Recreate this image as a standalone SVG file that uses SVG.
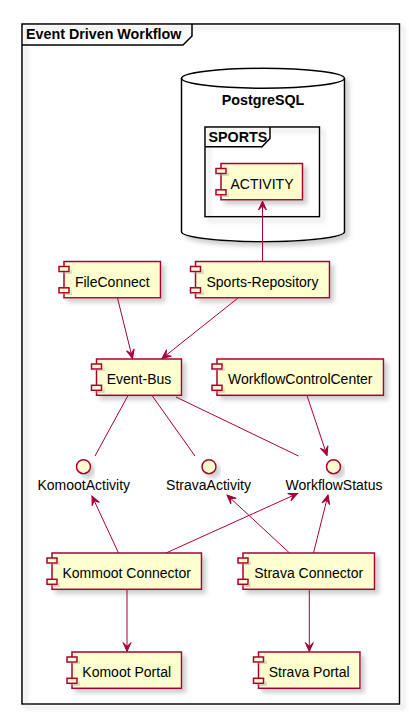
<svg xmlns="http://www.w3.org/2000/svg" width="409" height="715" viewBox="0 0 409 715">
<style>
.comp{fill:#FEFECE;stroke:#A80036;stroke-width:1.5;filter:url(#sh)}
.frame{fill:none;stroke:#000;stroke-width:1.5}
.lbl{font-family:"Liberation Sans",Arial,sans-serif;font-size:14px;fill:#000;text-anchor:middle}
.ilbl{font-family:"Liberation Sans",Arial,sans-serif;font-size:14px;fill:#000;text-anchor:middle}
.title{font-family:"Liberation Sans",Arial,sans-serif;font-size:14.3px;font-weight:bold;fill:#000}
.edge{fill:none;stroke:#A80036;stroke-width:1}
.arr{marker-end:url(#ah)}
</style>
<defs>
<filter id="sh" x="-20%" y="-20%" width="150%" height="160%">
<feGaussianBlur in="SourceAlpha" stdDeviation="2" result="b"/>
<feOffset in="b" dx="4" dy="4" result="o"/>
<feColorMatrix in="o" type="matrix" values="0 0 0 0 0.4  0 0 0 0 0.4  0 0 0 0 0.4  0 0 0 0.55 0" result="c"/>
<feMerge><feMergeNode in="c"/><feMergeNode in="SourceGraphic"/></feMerge>
</filter>
<marker id="ah" viewBox="-10 -5 11 10" refX="0" refY="0" markerWidth="11" markerHeight="10" orient="auto" markerUnits="userSpaceOnUse">
<path d="M0,0 L-9,-4 L-5,0 L-9,4 Z" fill="#A80036" stroke="#A80036" stroke-width="1"/>
</marker>
</defs>

<g id="frame-workflow">
<rect class="frame" x="22" y="24" width="377.5" height="680" filter="url(#sh)"/>
<path class="frame" d="M22,45 L183,45 L192,36 L192,24"/>
<text class="title" x="26" y="38.5">Event Driven Workflow</text>
</g>

<g id="db-postgresql">
<path d="M181.5,78.3 A81.5,10 0 0 1 344.5,78.3 L344.5,231.7 A81.5,10 0 0 1 181.5,231.7 Z" fill="#FFFFFF" stroke="#000" stroke-width="1.5" filter="url(#sh)"/>
<path d="M181.5,78.3 A81.5,10 0 0 0 344.5,78.3" fill="none" stroke="#000" stroke-width="1.5"/>
<text class="title" x="263" y="105" text-anchor="middle">PostgreSQL</text>
</g>

<g id="frame-sports">
<rect class="frame" x="205" y="127" width="114.5" height="89.7" filter="url(#sh)"/>
<path class="frame" d="M205,146.7 L262,146.7 L270,138.5 L270,127"/>
<text class="title" x="208.5" y="141.7">SPORTS</text>
</g>

<g id="activity">
<rect class="comp" x="221" y="163.5" width="81.5" height="36.3"/>
<rect class="comp" x="216" y="168.5" width="10" height="5"/>
<rect class="comp" x="216" y="189.8" width="10" height="5"/>
<text class="lbl" x="262" y="188.5">ACTIVITY</text>
</g>

<g id="fileconnect">
<rect class="comp" x="64" y="261.5" width="96.5" height="36.3"/>
<rect class="comp" x="59" y="266.5" width="10" height="5"/>
<rect class="comp" x="59" y="287.8" width="10" height="5"/>
<text class="lbl" x="112.3" y="286.5">FileConnect</text>
</g>

<g id="sports-repository">
<rect class="comp" x="195.5" y="261.5" width="134" height="36.3"/>
<rect class="comp" x="190.5" y="266.5" width="10" height="5"/>
<rect class="comp" x="190.5" y="287.8" width="10" height="5"/>
<text class="lbl" x="262.5" y="286.5">Sports-Repository</text>
</g>

<g id="event-bus">
<rect class="comp" x="96.5" y="359" width="85" height="36.3"/>
<rect class="comp" x="91.5" y="364" width="10" height="5"/>
<rect class="comp" x="91.5" y="385.3" width="10" height="5"/>
<text class="lbl" x="139" y="384">Event-Bus</text>
</g>

<g id="workflowcontrolcenter">
<rect class="comp" x="217" y="359" width="166.5" height="36.3"/>
<rect class="comp" x="212" y="364" width="10" height="5"/>
<rect class="comp" x="212" y="385.3" width="10" height="5"/>
<text class="lbl" x="300.3" y="384">WorkflowControlCenter</text>
</g>

<g id="komootactivity">
<circle class="comp" cx="83.5" cy="466.7" r="7"/>
<text class="ilbl" x="83.8" y="490">KomootActivity</text>
</g>

<g id="stravaactivity">
<circle class="comp" cx="209" cy="466.7" r="7"/>
<text class="ilbl" x="208.5" y="490">StravaActivity</text>
</g>

<g id="workflowstatus">
<circle class="comp" cx="333.5" cy="466.7" r="7"/>
<text class="ilbl" x="334" y="490">WorkflowStatus</text>
</g>

<g id="kommoot-connector">
<rect class="comp" x="52" y="553" width="149.5" height="36.3"/>
<rect class="comp" x="47" y="558" width="10" height="5"/>
<rect class="comp" x="47" y="579.3" width="10" height="5"/>
<text class="lbl" x="126.7" y="578">Kommoot Connector</text>
</g>

<g id="strava-connector">
<rect class="comp" x="243" y="553" width="131.5" height="36.3"/>
<rect class="comp" x="238" y="558" width="10" height="5"/>
<rect class="comp" x="238" y="579.3" width="10" height="5"/>
<text class="lbl" x="308.7" y="578">Strava Connector</text>
</g>

<g id="komoot-portal">
<rect class="comp" x="72" y="652" width="109.5" height="36.3"/>
<rect class="comp" x="67" y="657" width="10" height="5"/>
<rect class="comp" x="67" y="678.3" width="10" height="5"/>
<text class="lbl" x="126.7" y="677">Komoot Portal</text>
</g>

<g id="strava-portal">
<rect class="comp" x="258.5" y="652" width="101.5" height="36.3"/>
<rect class="comp" x="253.5" y="657" width="10" height="5"/>
<rect class="comp" x="253.5" y="678.3" width="10" height="5"/>
<text class="lbl" x="309.2" y="677">Strava Portal</text>
</g>

<g id="connectors">
<path class="edge arr" d="M262.5,261.5 L262.5,201"/>
<path class="edge arr" d="M117.5,298 L132.5,358.5"/>
<path class="edge arr" d="M238,298 L162,358.5"/>
<path class="edge arr" d="M307,395.5 L327,455.5"/>
<path class="edge" d="M128,395.5 L95,456"/>
<path class="edge" d="M152,395.5 L195,456"/>
<path class="edge" d="M176,397 L298.5,456"/>
<path class="edge arr" d="M118.5,553 L92,496"/>
<path class="edge arr" d="M166,553 L297.5,493.5"/>
<path class="edge arr" d="M289.5,553 L227,495"/>
<path class="edge arr" d="M313.5,553 L328,495"/>
<path class="edge arr" d="M127,589.5 L127,651.5"/>
<path class="edge arr" d="M309.3,589.5 L309.3,651.5"/>
</g>
</svg>
